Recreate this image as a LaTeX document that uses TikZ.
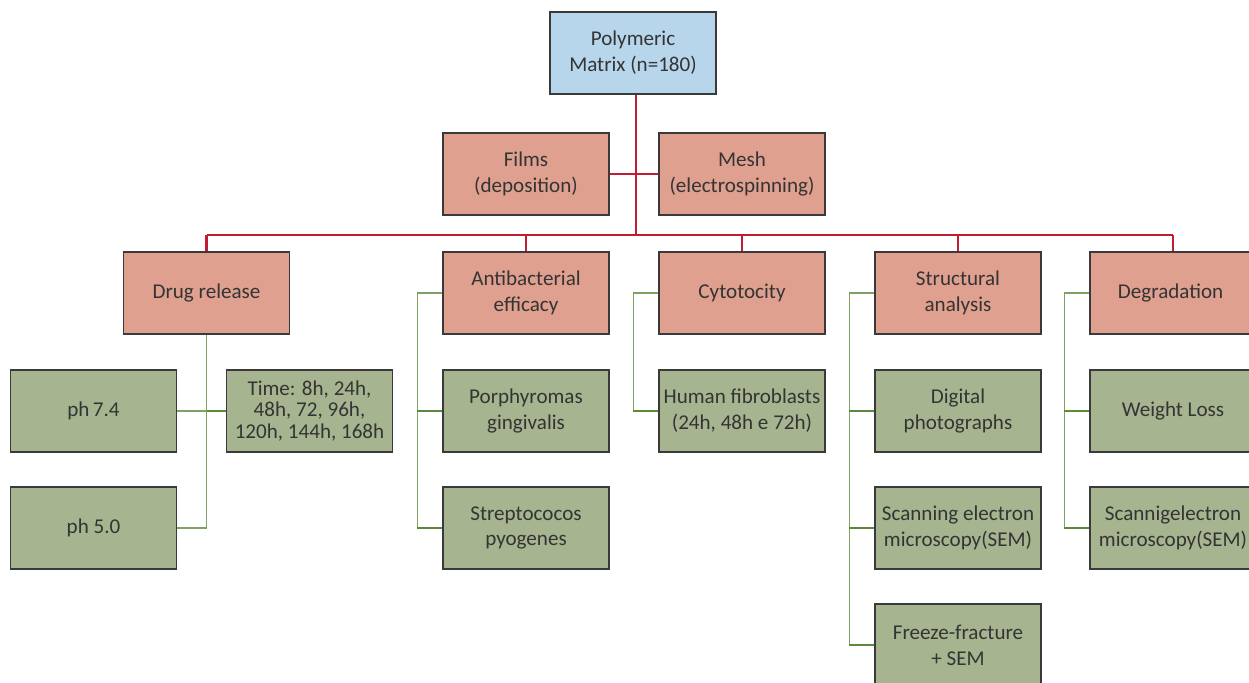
\documentclass[tikz,border=0pt]{standalone}
\usepackage{fontspec}
\setmainfont{Carlito}
\usetikzlibrary{calc}
\usetikzlibrary{positioning}

\definecolor{topblue}{RGB}{183,214,236}
\definecolor{boxred}{RGB}{223,160,143}
\definecolor{boxgreen}{RGB}{166,180,143}
\definecolor{linered}{RGB}{192,28,52}
\definecolor{linegreen}{RGB}{128,160,100}
\definecolor{stubgreen}{RGB}{92,138,58}
\definecolor{edgegray}{RGB}{58,58,58}
\definecolor{textgray}{RGB}{52,52,52}

\begin{document}
\begin{tikzpicture}[x=0.02cm, y=-0.02cm,
    box/.style={draw=edgegray, line width=0.8pt, minimum width=3.32cm,
        minimum height=1.64cm, inner sep=0pt, align=center, text=textgray,
        font=\fontsize{12}{14.7}\selectfont},
    topbox/.style={box, fill=topblue},
    redbox/.style={box, fill=boxred},
    greenbox/.style={box, fill=boxgreen},
    redline/.style={linered, line width=1.3pt},
    greenline/.style={linegreen, line width=0.8pt},
    stub/.style={stubgreen, line width=1pt}
]
    % Frame of the picture
    \clip (0,0) rectangle (1249,683);
    \fill[white] (0,0) rectangle (1249,683);

    % Top node and the two forms
    \node[topbox] (matrix) at (633,53) {Polymeric\\Matrix (n=180)};
    \node[redbox] (films) at (526,174) {Films\\(deposition)};
    \node[redbox] (mesh) at (742,174) {Mesh\\(electrospinning)};

    % Assays
    \foreach \name/\x/\txt in {
        drug/206.5/{Drug release},
        anti/526/{Antibacterial\\efficacy},
        cyto/742/{Cytotocity},
        struct/958/{Structural\\analysis},
        degr/1173/{Degradation}
    } {
        \node[redbox] (\name) at (\x,293) {\txt};
    }

    % Sub-items
    \node[greenbox] (ph74) at (93.5,411) {ph\,7.4};
    \node[greenbox, font=\fontsize{12}{12.4}\selectfont] (time) at (309.5,411)
        {Time: 8h, 24h,\\48h, 72, 96h,\\120h, 144h, 168h};
    \node[greenbox] (ph50) at (93.5,528) {ph 5.0};
    \node[greenbox] (porph) at (526,411) {Porphyromas\\gingivalis};
    \node[greenbox] (strep) at (526,528) {Streptococos\\pyogenes};
    \node[greenbox] (human) at (742,411) {Human fibroblasts\\(24h, 48h e 72h)};
    \node[greenbox] (digital) at (958,411) {Digital\\photographs};
    \node[greenbox] (scan) at (958,528) {Scanning electron\\microscopy(SEM)};
    \node[greenbox] (freeze) at (958,645) {Freeze-fracture\\+ SEM};
    \node[greenbox] (weight) at (1173,411) {Weight Loss};
    \node[greenbox] (scannig) at (1173,528) {Scannigelectron\\microscopy(SEM)};

    % Red tree
    \coordinate (bus) at (636,235);
    \draw[redline] (matrix.south -| bus) -- (bus);
    \draw[redline] (films.east) -- (mesh.west);
    \draw[redline] (drug.north |- bus) -- (degr.north |- bus);
    \foreach \name in {drug, anti, cyto, struct, degr} {
        \draw[redline] (\name.north |- bus) -- (\name.north);
    }

    % Drug release branches
    \draw[greenline] (drug.south) -- (drug.south |- ph50.east) -- (ph50.east);
    \draw[greenline] (ph74.east) -- (time.west);
    \draw[stub] (drug.south |- time.west) -- (time.west);

    % Left-side branches
    \foreach \head/\last in {anti/strep, cyto/human, struct/freeze, degr/scannig} {
        \draw[greenline] (\head.west) -- ++(-25,0) |- (\last.west);
    }
    \foreach \item in {porph, strep, human, digital, scan, freeze, weight, scannig} {
        \draw[stub] (\item.west) -- ++(-25,0);
    }
\end{tikzpicture}
\end{document}
